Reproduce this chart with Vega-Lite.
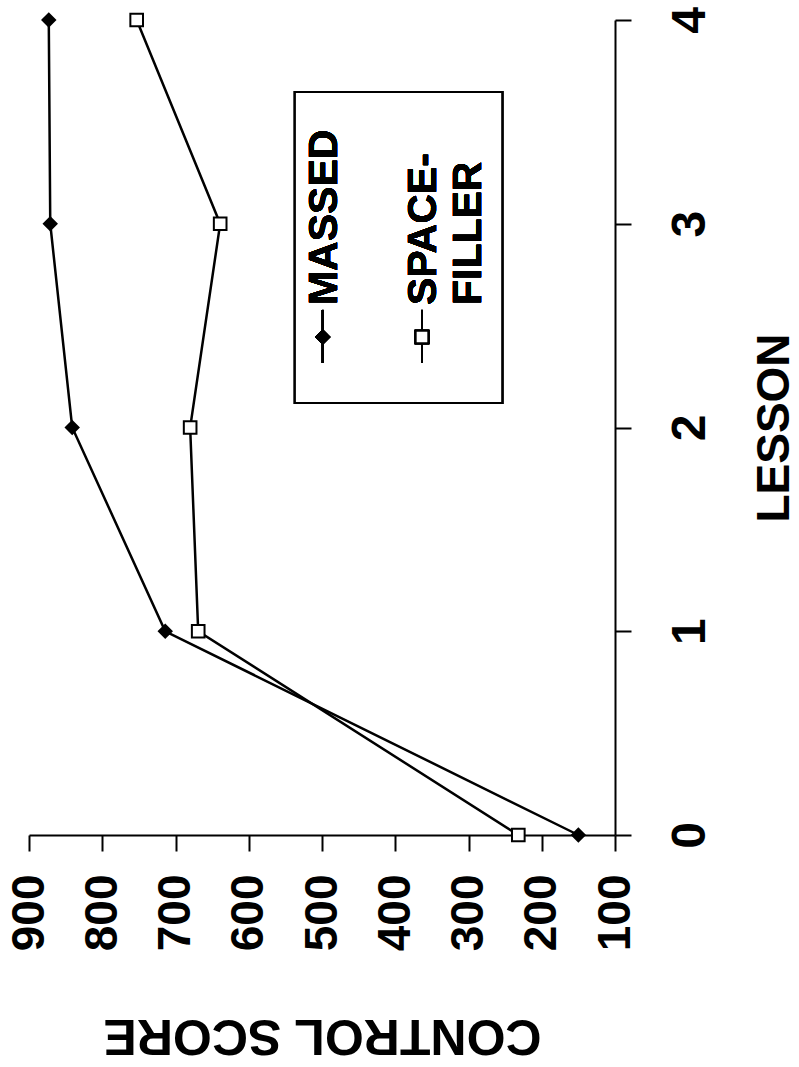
{
  "$schema": "https://vega.github.io/schema/vega-lite/v6.json",
  "width": 586,
  "height": 815,
  "autosize": "none",
  "padding": {"left": 29, "top": 20, "right": 184, "bottom": 232},
  "background": "white",
  "config": {
    "view": {"stroke": null},
    "font": "Liberation Sans",
    "axis": {
      "grid": false,
      "domainColor": "black",
      "domainWidth": 2,
      "tickColor": "black",
      "tickWidth": 2,
      "tickSize": 16,
      "labelColor": "black",
      "labelFont": "Liberation Sans",
      "labelFontWeight": "bold",
      "labelFlush": false,
      "labelOverlap": false,
      "titleColor": "black",
      "titleFont": "Liberation Sans",
      "titleFontWeight": "bold"
    }
  },
  "data": {
    "values": [
      {"lesson": 0, "score": 150, "group": "MASSED"},
      {"lesson": 1, "score": 714, "group": "MASSED"},
      {"lesson": 2, "score": 841, "group": "MASSED"},
      {"lesson": 3, "score": 871, "group": "MASSED"},
      {"lesson": 4, "score": 873, "group": "MASSED"},
      {"lesson": 0, "score": 232, "group": "SPACE-FILLER"},
      {"lesson": 1, "score": 669, "group": "SPACE-FILLER"},
      {"lesson": 2, "score": 680, "group": "SPACE-FILLER"},
      {"lesson": 3, "score": 639, "group": "SPACE-FILLER"},
      {"lesson": 4, "score": 753, "group": "SPACE-FILLER"}
    ]
  },
  "layer": [
    {
      "mark": {"type": "rect", "fill": "white", "stroke": "black", "strokeWidth": 2},
      "encoding": {
        "x": {"datum": 537, "type": "quantitative"},
        "x2": {"datum": 254},
        "y": {"datum": 3.647, "type": "quantitative"},
        "y2": {"datum": 2.12}
      }
    },
    {
      "mark": {"type": "line", "color": "black", "strokeWidth": 2.5, "clip": false},
      "encoding": {
        "x": {
          "field": "score",
          "type": "quantitative",
          "scale": {"domain": [100, 900], "reverse": true, "nice": false, "zero": false},
          "axis": {
            "orient": "bottom",
            "title": "CONTROL SCORE",
            "values": [100, 200, 300, 400, 500, 600, 700, 800, 900],
            "labelAngle": -90,
            "labelAlign": "right",
            "labelBaseline": "middle",
            "labelPadding": 23,
            "labelFontSize": 46,
            "titleAngle": 180,
            "titleBaseline": "bottom",
            "titleFontSize": 50,
            "titlePadding": 59
          }
        },
        "y": {
          "field": "lesson",
          "type": "quantitative",
          "scale": {"domain": [0, 4], "nice": false, "zero": false},
          "axis": {
            "orient": "right",
            "title": "LESSON",
            "values": [0, 1, 2, 3, 4],
            "format": "d",
            "labelAngle": -90,
            "labelAlign": "center",
            "labelBaseline": "top",
            "labelPadding": 35,
            "labelFontSize": 48,
            "titleAngle": -90,
            "titleBaseline": "top",
            "titleFontSize": 46,
            "titlePadding": 38
          }
        },
        "detail": {"field": "group"},
        "order": {"field": "lesson"}
      }
    },
    {
      "mark": {"type": "point", "filled": true, "stroke": "black", "strokeWidth": 2, "opacity": 1, "size": 160, "clip": false},
      "encoding": {
        "x": {"field": "score", "type": "quantitative"},
        "y": {"field": "lesson", "type": "quantitative"},
        "shape": {"field": "group", "type": "nominal", "scale": {"domain": ["MASSED", "SPACE-FILLER"], "range": ["diamond", "square"]}, "legend": null},
        "fill": {"field": "group", "type": "nominal", "scale": {"domain": ["MASSED", "SPACE-FILLER"], "range": ["black", "white"]}, "legend": null}
      }
    },
    {
      "mark": {"type": "rule", "color": "black", "strokeWidth": 2},
      "encoding": {
        "x": {"datum": 499, "type": "quantitative"},
        "y": {"datum": 2.577, "type": "quantitative"},
        "y2": {"datum": 2.317}
      }
    },
    {
      "mark": {"type": "rule", "color": "black", "strokeWidth": 2},
      "encoding": {
        "x": {"datum": 363.5, "type": "quantitative"},
        "y": {"datum": 2.577, "type": "quantitative"},
        "y2": {"datum": 2.317}
      }
    },
    {
      "mark": {"type": "point", "shape": "diamond", "filled": true, "fill": "black", "stroke": "black", "strokeWidth": 2, "opacity": 1, "size": 160},
      "encoding": {
        "x": {"datum": 499, "type": "quantitative"},
        "y": {"datum": 2.444, "type": "quantitative"}
      }
    },
    {
      "mark": {"type": "point", "shape": "square", "filled": true, "fill": "white", "stroke": "black", "strokeWidth": 2, "opacity": 1, "size": 160},
      "encoding": {
        "x": {"datum": 363.5, "type": "quantitative"},
        "y": {"datum": 2.444, "type": "quantitative"}
      }
    },
    {
      "mark": {"type": "text", "text": "MASSED", "angle": -90, "align": "left", "baseline": "middle", "font": "Liberation Sans", "fontWeight": "bold", "fontSize": 41, "color": "black"},
      "encoding": {
        "x": {"datum": 496, "type": "quantitative"},
        "y": {"datum": 2.601, "type": "quantitative"}
      }
    },
    {
      "mark": {"type": "text", "text": ["SPACE-", "FILLER"], "lineHeight": 45, "angle": -90, "align": "left", "baseline": "middle", "font": "Liberation Sans", "fontWeight": "bold", "fontSize": 41, "color": "black"},
      "encoding": {
        "x": {"datum": 361, "type": "quantitative"},
        "y": {"datum": 2.601, "type": "quantitative"}
      }
    }
  ]
}
